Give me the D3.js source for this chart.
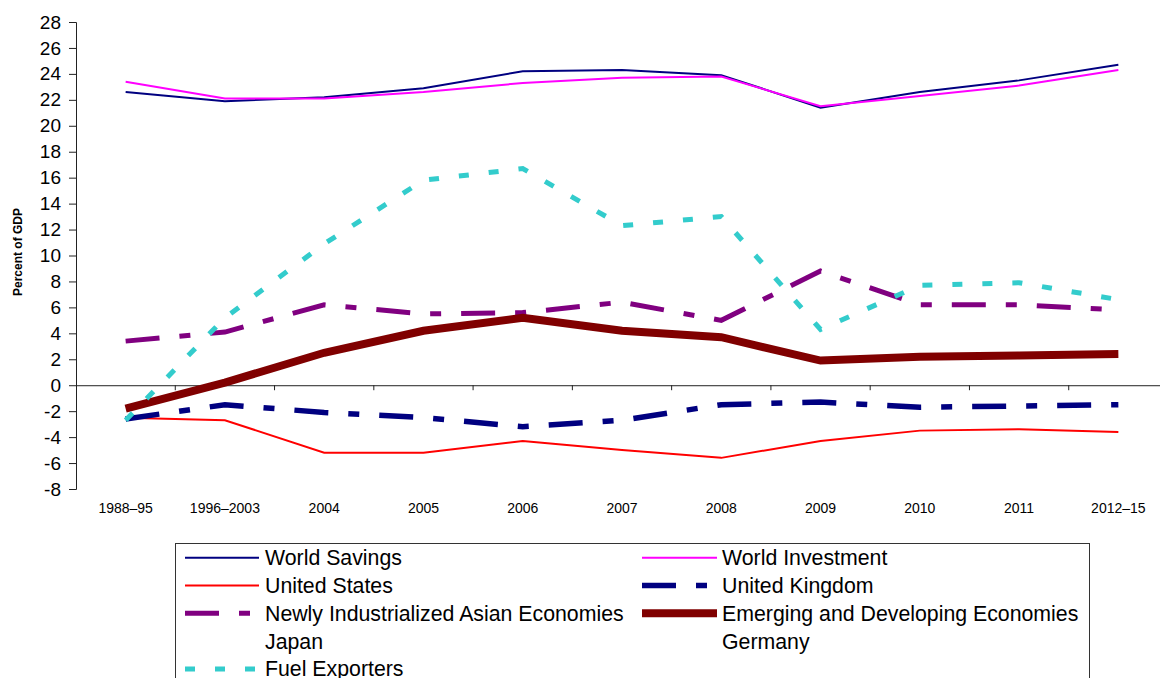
<!DOCTYPE html>
<html>
<head>
<meta charset="utf-8">
<script src="https://cdn.jsdelivr.net/npm/d3@7"></script>
<style>
  html, body { margin: 0; padding: 0; background: #fff; }
  svg { display: block; font-family: "Liberation Sans", Arial, sans-serif; }
</style>
</head>
<body>
<svg id="chart" width="1160" height="678"></svg>
<script>
// ---- Data ----
const categories = ["1988–95", "1996–2003", "2004", "2005", "2006", "2007", "2008", "2009", "2010", "2011", "2012–15"];
const yTickValues = [-8, -6, -4, -2, 0, 2, 4, 6, 8, 10, 12, 14, 16, 18, 20, 22, 24, 26, 28];

const worldSavings        = [22.6, 21.9, 22.2, 22.9, 24.2, 24.3, 23.9, 21.4, 22.6, 23.5, 24.7];
const worldInvestment     = [23.4, 22.1, 22.1, 22.6, 23.3, 23.7, 23.8, 21.5, 22.3, 23.1, 24.3];
const unitedStates        = [-2.5, -2.7, -5.2, -5.2, -4.3, -5.0, -5.6, -4.3, -3.5, -3.4, -3.6];
const unitedKingdom       = [-2.6, -1.5, -2.1, -2.5, -3.2, -2.7, -1.5, -1.3, -1.7, -1.6, -1.5];
const newlyIndustrialized = [3.4, 4.1, 6.2, 5.5, 5.6, 6.4, 5.0, 8.8, 6.2, 6.2, 5.8];
const emergingDeveloping  = [-1.8, 0.2, 2.5, 4.2, 5.2, 4.2, 3.7, 1.9, 2.2, 2.3, 2.4];
const japan               = [];
const germany             = [];
const fuelExporters       = [-2.7, 5.2, 10.9, 15.8, 16.7, 12.3, 13.0, 4.3, 7.7, 7.9, 6.6];

const seriesNames = ["World Savings", "World Investment", "United States", "United Kingdom",
  "Newly Industrialized Asian Economies", "Emerging and Developing Economies", "Japan", "Germany", "Fuel Exporters"];
const seriesValues = [worldSavings, worldInvestment, unitedStates, unitedKingdom,
  newlyIndustrialized, emergingDeveloping, japan, germany, fuelExporters];

// ---- Styles ----
const styles = [
  { color: "#000080", width: 2, dash: null },
  { color: "#FF00FF", width: 2, dash: null },
  { color: "#FF0000", width: 2, dash: null },
  { color: "#000080", width: 5.5, dash: "34,20,11,20" },
  { color: "#800080", width: 5, dash: "34,20,11,20" },
  { color: "#800000", width: 8, dash: null },
  { color: "none", width: 0, dash: null },
  { color: "none", width: 0, dash: null },
  { color: "#33CCCC", width: 5, dash: "10,20" }
];

const svg = d3.select("#chart");
const plotLeft = 76, plotRight = 1168, plotTop = 22, plotBottom = 489;

const x = d3.scaleBand().domain(categories).range([plotLeft, plotRight]).paddingInner(0).paddingOuter(0);
const y = d3.scaleLinear().domain([-8, 28]).range([plotBottom, plotTop]);
const cx = c => x(c) + x.bandwidth() / 2;

// Y axis
const yAxis = svg.append("g").attr("transform", `translate(${plotLeft},0)`)
  .call(d3.axisLeft(y).tickValues(yTickValues).tickFormat(d => String(d)).tickSize(7).tickPadding(8));
yAxis.select(".domain").attr("stroke", "#222").attr("stroke-width", 1);
yAxis.selectAll(".tick line").attr("stroke", "#222");
yAxis.selectAll(".tick text").attr("font-size", 19).attr("fill", "#000")
  .attr("font-family", "'Liberation Sans', Arial, sans-serif");

// X axis at zero
const xAxis = svg.append("g").attr("transform", `translate(0,${y(0)})`)
  .call(d3.axisBottom(x).tickSize(0).tickPadding(0));
xAxis.select(".domain").attr("stroke", "#222").attr("stroke-width", 1);
xAxis.selectAll(".tick").remove();
const boundaries = categories.slice(1).map(c => x(c));
xAxis.selectAll("line.bt").data(boundaries).enter().append("line")
  .attr("class", "bt").attr("x1", d => d).attr("x2", d => d)
  .attr("y1", 0).attr("y2", 5).attr("stroke", "#222").attr("stroke-width", 1);

// Category labels under the plot
svg.append("g").selectAll("text").data(categories).enter().append("text")
  .attr("x", d => cx(d)).attr("y", 513)
  .attr("text-anchor", "middle").attr("font-size", 14).attr("fill", "#000")
  .text(d => d);

// Y title
svg.append("text")
  .attr("transform", `translate(22,252) rotate(-90)`)
  .attr("text-anchor", "middle").attr("font-size", 12).attr("font-weight", "bold")
  .attr("fill", "#000").text("Percent of GDP");

// Lines
const line = d3.line().x((d, i) => cx(categories[i])).y(d => y(d));
const linesG = svg.append("g");
seriesValues.forEach((vals, i) => {
  if (!vals.length) return;
  const s = styles[i];
  linesG.append("path").datum(vals)
    .attr("d", line)
    .attr("fill", "none")
    .attr("stroke", s.color)
    .attr("stroke-width", s.width)
    .attr("stroke-dasharray", s.dash)
    .attr("stroke-linejoin", "miter")
    .attr("stroke-linecap", "butt");
});

// Legend
const lg = svg.append("g");
lg.append("rect").attr("x", 175.5).attr("y", 543.5).attr("width", 914).attr("height", 160)
  .attr("fill", "#fff").attr("stroke", "#333").attr("stroke-width", 1);
const colSample = [[185, 259], [642, 717]];
const colText = [265, 722];
seriesNames.forEach((name, i) => {
  const row = Math.floor(i / 2), col = i % 2;
  const cy = 557.7 + row * 27.8;
  const s = styles[i];
  if (s.color !== "none") {
    lg.append("line")
      .attr("x1", colSample[col][0]).attr("x2", colSample[col][1])
      .attr("y1", cy).attr("y2", cy)
      .attr("stroke", s.color).attr("stroke-width", s.width)
      .attr("stroke-dasharray", s.dash);
  }
  lg.append("text").attr("x", colText[col]).attr("y", cy + 7.5)
    .attr("font-size", 21.3).attr("fill", "#000").text(name);
});
</script>
</body>
</html>
